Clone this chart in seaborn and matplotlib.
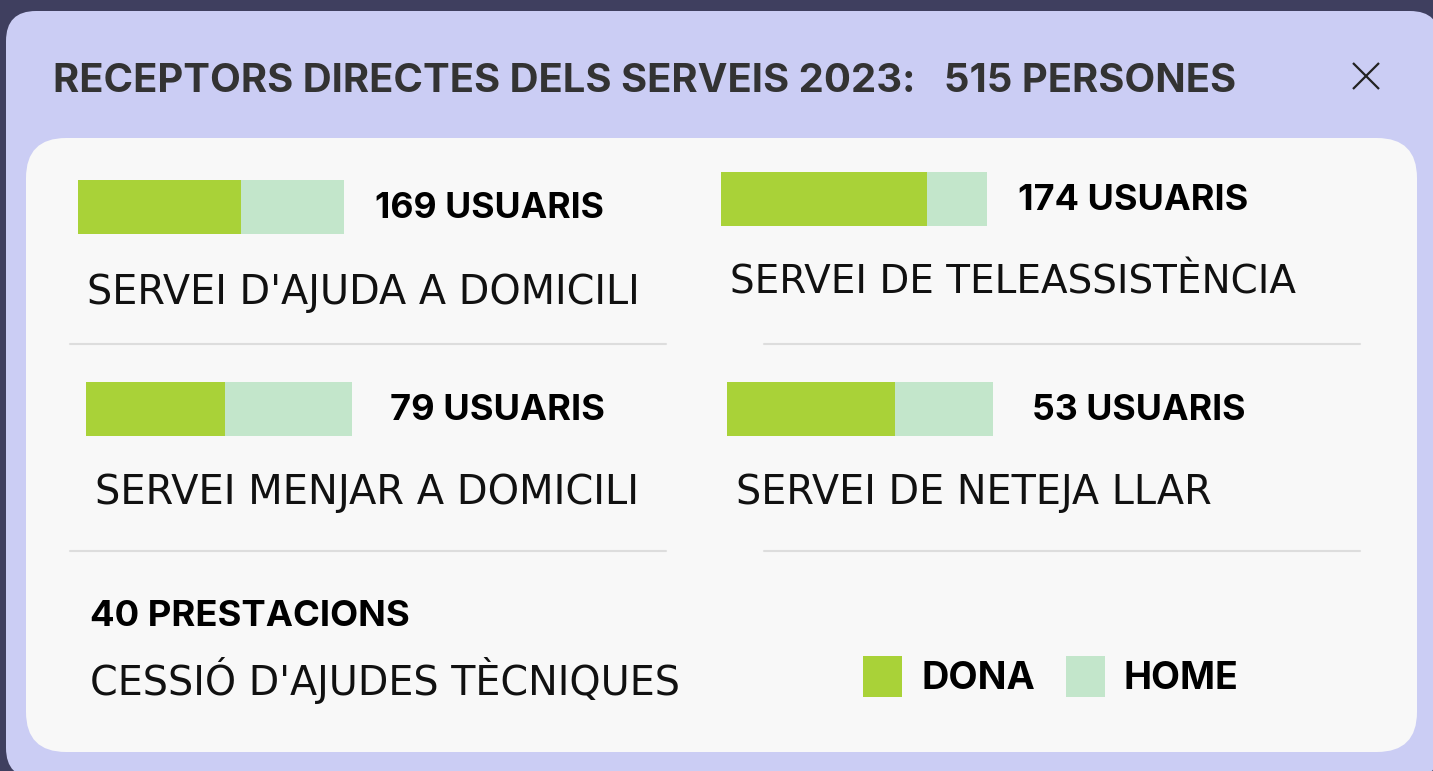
import matplotlib
matplotlib.use("Agg")
import matplotlib.pyplot as plt
import seaborn as sns
import pandas as pd
from matplotlib.patches import FancyBboxPatch, Rectangle

# ---------------- data ----------------
title_text = "RECEPTORS DIRECTES DELS SERVEIS 2023:   515 PERSONES"
services = ["SERVEI D'AJUDA A DOMICILI", "SERVEI DE TELEASSISTÈNCIA",
            "SERVEI MENJAR A DOMICILI", "SERVEI DE NETEJA LLAR"]
usuaris = [169, 174, 79, 53]
dona_pct = [61.3, 77.4, 52.3, 63.2]
home_pct = [38.7, 22.6, 47.7, 36.8]
extra_count = 40
extra_label = "CESSIÓ D'AJUDES TÈCNIQUES"
legend_labels = ["DONA", "HOME"]

GREEN = "#a9d238"
LIGHT = "#c3e6cb"
DARK_BG = "#3f3f5f"
LAVENDER = "#cbcdf4"
PANEL = "#f8f8f8"

W, H = 1433, 771
sns.set_theme(style="white")
plt.rcParams["font.family"] = ["DejaVu Sans"]
BOLD_FAMILY = ["Inter", "DejaVu Sans"]
REG_FAMILY = ["DejaVu Sans"]

fig = plt.figure(figsize=(W / 100, H / 100), dpi=100)
fig.patch.set_facecolor(DARK_BG)
renderer = fig.canvas.get_renderer()

bg = fig.add_axes([0, 0, 1, 1])
bg.set_xlim(0, W)
bg.set_ylim(H, 0)
bg.axis("off")

# panels
bg.add_patch(FancyBboxPatch((6 + 30, 11 + 30), 1440 - 6 - 60, 778 - 11 - 60,
                            boxstyle="round,pad=30", fc=LAVENDER, ec="none"))
bg.add_patch(FancyBboxPatch((26 + 40, 138 + 40), 1417 - 26 - 80, 752 - 138 - 80,
                            boxstyle="round,pad=40", fc=PANEL, ec="none"))

# close X
bg.plot([1353, 1379], [63, 89], color="#222222", lw=1.6, solid_capstyle="butt")
bg.plot([1353, 1379], [89, 63], color="#222222", lw=1.6, solid_capstyle="butt")

# separators
for yy in (344, 551):
    bg.plot([70, 666], [yy, yy], color="#dddddd", lw=1.5)
    bg.plot([764, 1360], [yy, yy], color="#dddddd", lw=1.5)


def fit_text(s, x0, x1, baseline, weight, color):
    fam = BOLD_FAMILY if weight == "bold" else REG_FAMILY
    t = bg.text(x0, baseline, s, fontsize=20, fontweight=weight, color=color,
                ha="left", va="baseline", family=fam)
    w = t.get_window_extent(renderer).width
    t.set_fontsize(20 * (x1 - x0) / w)
    return t


fit_text(title_text, 53, 1237, 92, "bold", "#333333")

# bars
bar_boxes = [(78, 180, 344, 234), (721, 172, 987, 226),
             (86, 382, 352, 436), (727, 382, 993, 436)]
count_pos = [(375, 604, 218), (1018, 1248, 210), (390, 605, 420), (1032, 1246, 420)]
label_pos = [(87, 640, 304), (730, 1296, 293), (95, 641, 504), (736, 1212, 504)]

for i, (x0, y0, x1, y1) in enumerate(bar_boxes):
    ax = fig.add_axes([x0 / W, (H - y1) / H, (x1 - x0) / W, (y1 - y0) / H])
    df = pd.DataFrame({"servei": [services[i]],
                       "dona": [dona_pct[i]],
                       "total": [dona_pct[i] + home_pct[i]]})
    sns.barplot(data=df, x="total", y="servei", orient="h", color=LIGHT,
                saturation=1, width=1, linewidth=0, ax=ax)
    sns.barplot(data=df, x="dona", y="servei", orient="h", color=GREEN,
                saturation=1, width=1, linewidth=0, ax=ax)
    ax.set_xlim(0, 100)
    ax.set_ylim(0.5, -0.5)
    ax.axis("off")
    ax.patch.set_alpha(0)

    cx0, cx1, cb = count_pos[i]
    fit_text(f"{usuaris[i]} USUARIS", cx0, cx1, cb, "bold", "#000000")
    lx0, lx1, lb = label_pos[i]
    fit_text(services[i], lx0, lx1, lb, "normal", "#111111")

fit_text(f"{extra_count} PRESTACIONS", 90, 410, 626, "bold", "#000000")
fit_text(extra_label, 90, 680, 695, "normal", "#111111")

# legend
bg.add_patch(Rectangle((863, 656), 39, 41, fc=GREEN, ec="none"))
bg.add_patch(Rectangle((1066, 656), 39, 41, fc=LIGHT, ec="none"))
fit_text(legend_labels[0], 922, 1036, 689, "bold", "#000000")
fit_text(legend_labels[1], 1124, 1239, 689, "bold", "#000000")

fig.savefig("out.png", dpi=100, facecolor=fig.get_facecolor())
